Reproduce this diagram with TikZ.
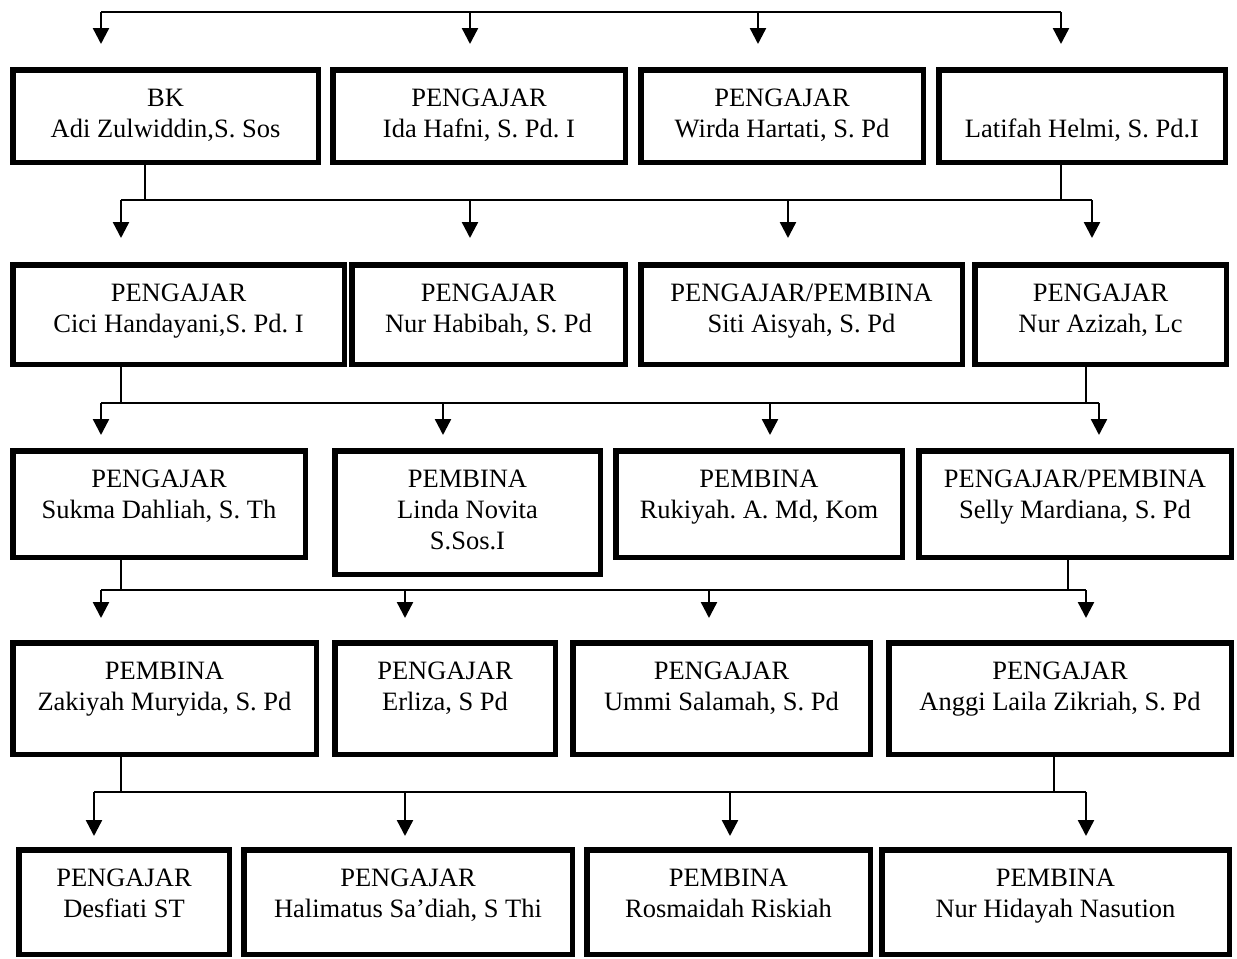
\documentclass[tikz,border=0pt]{standalone}
\usepackage{fontspec}
\setmainfont{Liberation Serif}
\frenchspacing
\usetikzlibrary{arrows.meta}
\tikzset{
  box/.style={draw, line width=5.5bp, inner sep=0pt, outer sep=0pt},
  lbl/.style={anchor=north, align=center, inner sep=0pt, font=\fontsize{26.5bp}{31bp}\selectfont},
  conn/.style={line width=1.8bp},
  arr/.style={line width=2.4bp, -{Triangle[width=16bp,length=16bp]}},
}
% name, x1, y1, x2, y2, text  (outer edges in pixels)
\newcommand\orgbox[6]{%
  \node[box, minimum width={(#4-#2-5.5)*1bp}, minimum height={(#5-#3-5.5)*1bp}]
    (#1) at ({(#2+#4)/2},{(#3+#5)/2}) {};
  \node[lbl] (#1t) at ({(#2+#4)/2},{#3+17.3}) {#6};
}
\begin{document}
\begin{tikzpicture}[x=1bp,y=-1bp]
\useasboundingbox (0,0) rectangle (1237,959);

% ---------- boxes ----------
\orgbox{a1}{10}{67}{321}{165}{\strut BK\\\strut Adi Zulwiddin,S. Sos}
\orgbox{a2}{330}{67}{628}{165}{\strut PENGAJAR\\\strut Ida Hafni, S. Pd. I}
\orgbox{a3}{638}{67}{926}{165}{\strut PENGAJAR\\\strut Wirda Hartati, S. Pd}
\orgbox{a4}{936}{67}{1228}{165}{\strut\\\strut Latifah Helmi, S. Pd.I}

\orgbox{b1}{10}{262}{347}{367}{\strut PENGAJAR\\\strut Cici Handayani,S. Pd. I}
\orgbox{b2}{349}{262}{628}{367}{\strut PENGAJAR\\\strut Nur Habibah, S. Pd}
\orgbox{b3}{638}{262}{965}{367}{\strut PENGAJAR/PEMBINA\\\strut Siti Aisyah, S. Pd}
\orgbox{b4}{972}{262}{1229}{367}{\strut PENGAJAR\\\strut Nur Azizah, Lc}

\orgbox{c1}{10}{448}{308}{560}{\strut PENGAJAR\\\strut Sukma Dahliah, S. Th}
\orgbox{c2}{332}{448}{603}{577}{\strut PEMBINA\\\strut Linda Novita\\\strut S.Sos.I}
\orgbox{c3}{613}{448}{905}{560}{\strut PEMBINA\\\strut Rukiyah. A. Md, Kom}
\orgbox{c4}{916}{448}{1234}{560}{\strut PENGAJAR/PEMBINA\\\strut Selly Mardiana, S. Pd}

\orgbox{d1}{10}{640}{319}{757}{\strut PEMBINA\\\strut Zakiyah Muryida, S. Pd}
\orgbox{d2}{332}{640}{558}{757}{\strut PENGAJAR\\\strut Erliza, S Pd}
\orgbox{d3}{570}{640}{873}{757}{\strut PENGAJAR\\\strut Ummi Salamah, S. Pd}
\orgbox{d4}{886}{640}{1234}{757}{\strut PENGAJAR\\\strut Anggi Laila Zikriah, S. Pd}

\orgbox{e1}{16}{847}{232}{957}{\strut PENGAJAR\\\strut Desfiati ST}
\orgbox{e2}{241}{847}{575}{957}{\strut PENGAJAR\\\strut Halimatus Sa’diah, S Thi}
\orgbox{e3}{584}{847}{873}{957}{\strut PEMBINA\\\strut Rosmaidah Riskiah}
\orgbox{e4}{879}{847}{1232}{957}{\strut PEMBINA\\\strut Nur Hidayah Nasution}

% ---------- connector: top ----------
\coordinate (h0l) at (101,12);
\coordinate (h0r) at (1061,12);
\draw[conn] (h0l) -- (h0r);
\foreach \n/\x in {1/101,2/470,3/758,4/1061}{
  \coordinate (t0\n) at (\x,44);
  \draw[arr] (t0\n |- h0l) -- (t0\n);
}

% ---------- connector: row 1 -> row 2 ----------
\coordinate (h1l) at (121,200);
\coordinate (h1r) at (1092,200);
\coordinate (j1a) at (145,200);
\coordinate (j1b) at (1061,200);
\draw[conn] (h1l) -- (h1r);
\draw[conn] (a1.south -| j1a) -- (j1a);
\draw[conn] (a4.south -| j1b) -- (j1b);
\foreach \n/\x in {1/121,2/470,3/788,4/1092}{
  \coordinate (t1\n) at (\x,238);
  \draw[arr] (t1\n |- h1l) -- (t1\n);
}

% ---------- connector: row 2 -> row 3 ----------
\coordinate (h2l) at (101,403);
\coordinate (h2r) at (1099,403);
\coordinate (j2a) at (121,403);
\coordinate (j2b) at (1086,403);
\draw[conn] (h2l) -- (h2r);
\draw[conn] (b1.south -| j2a) -- (j2a);
\draw[conn] (b4.south -| j2b) -- (j2b);
\foreach \n/\x in {1/101,2/443,3/770,4/1099}{
  \coordinate (t2\n) at (\x,435);
  \draw[arr] (t2\n |- h2l) -- (t2\n);
}

% ---------- connector: row 3 -> row 4 ----------
\coordinate (h3l) at (101,590);
\coordinate (h3r) at (1086,590);
\coordinate (j3a) at (121,590);
\coordinate (j3b) at (1068,590);
\draw[conn] (h3l) -- (h3r);
\draw[conn] (c1.south -| j3a) -- (j3a);
\draw[conn] (c4.south -| j3b) -- (j3b);
\foreach \n/\x in {1/101,2/405,3/709,4/1086}{
  \coordinate (t3\n) at (\x,618);
  \draw[arr] (t3\n |- h3l) -- (t3\n);
}

% ---------- connector: row 4 -> row 5 ----------
\coordinate (h4l) at (94,792);
\coordinate (h4r) at (1086,792);
\coordinate (j4a) at (121,792);
\coordinate (j4b) at (1054,792);
\draw[conn] (h4l) -- (h4r);
\draw[conn] (d1.south -| j4a) -- (j4a);
\draw[conn] (d4.south -| j4b) -- (j4b);
\foreach \n/\x in {1/94,2/405,3/730,4/1086}{
  \coordinate (t4\n) at (\x,836);
  \draw[arr] (t4\n |- h4l) -- (t4\n);
}
\end{tikzpicture}
\end{document}
